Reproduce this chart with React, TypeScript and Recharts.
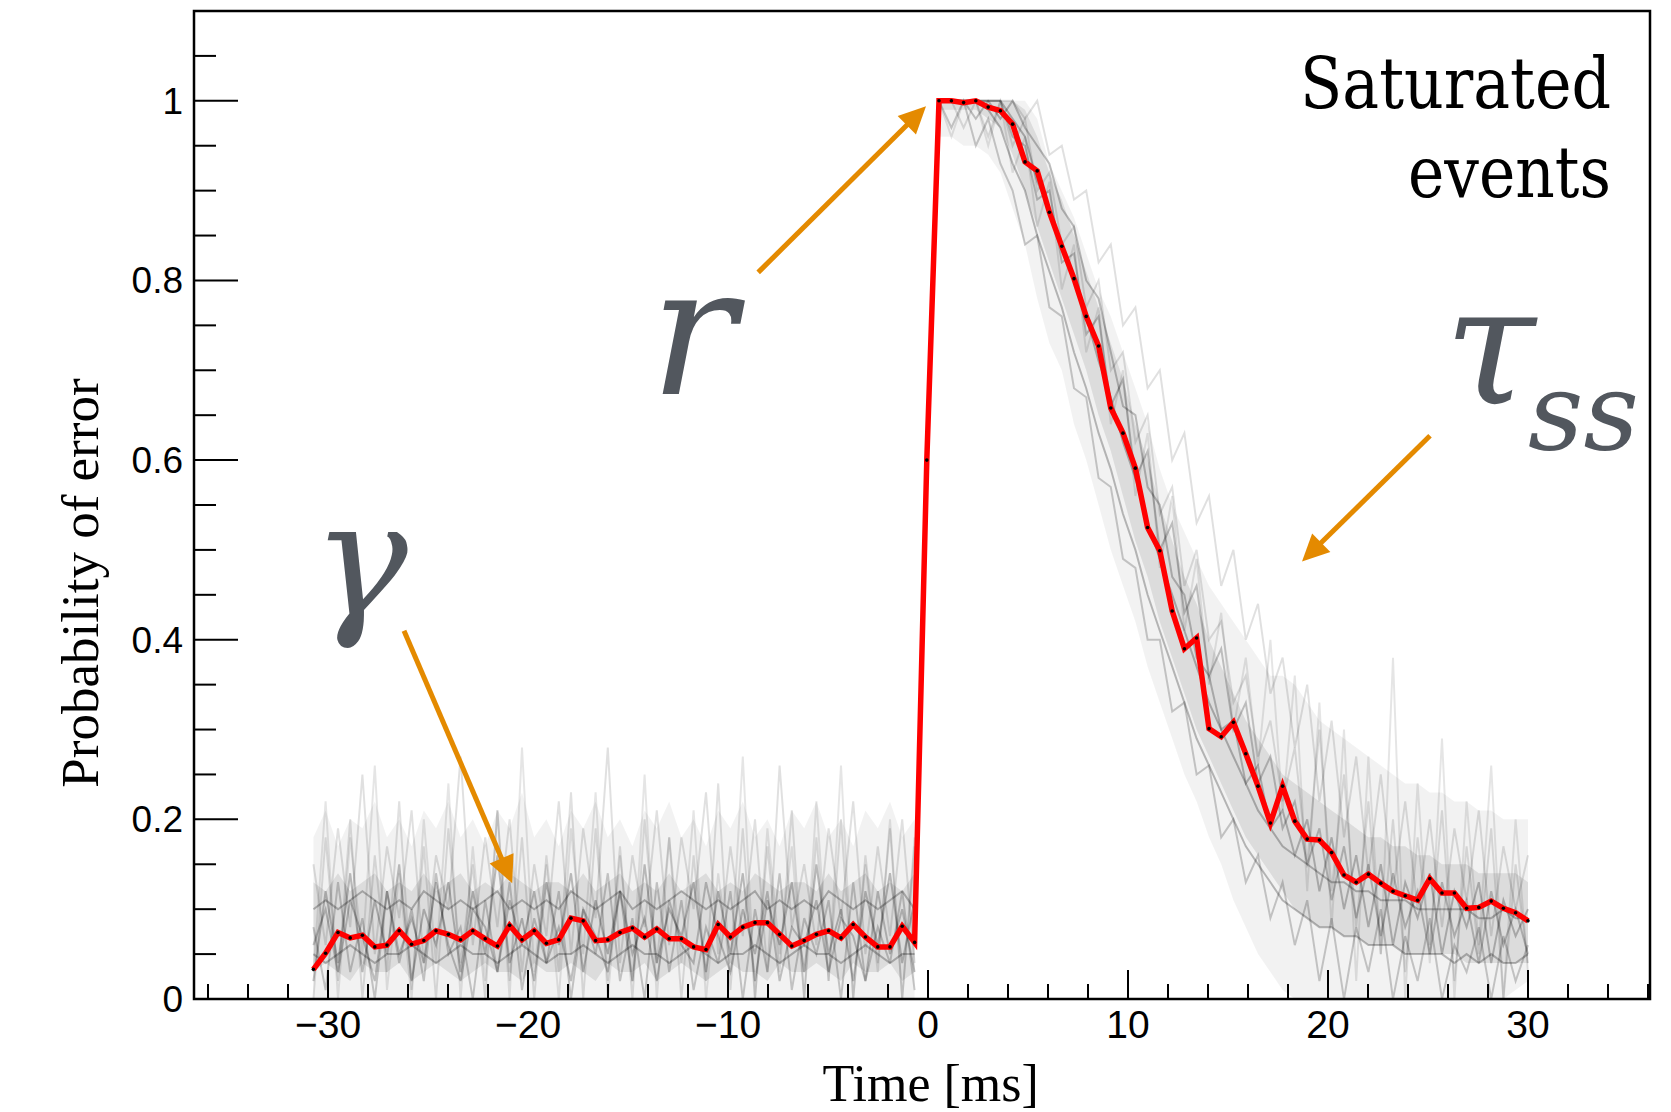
import React from "react";
import { ComposedChart, Line, Area, XAxis, YAxis, ReferenceArea, ReferenceLine, ReferenceDot } from "recharts";

// sample times [ms]
const time = [
  -30.73, -30.12, -29.5, -28.89, -28.28, -27.66, -27.05, -26.44, -25.82, -25.21,
  -24.6, -23.98, -23.37, -22.76, -22.14, -21.53, -20.92, -20.3, -19.69, -19.08,
  -18.46, -17.85, -17.24, -16.62, -16.01, -15.4, -14.78, -14.17, -13.56, -12.94,
  -12.33, -11.72, -11.1, -10.49, -9.88, -9.26, -8.65, -8.03, -7.42, -6.81,
  -6.19, -5.58, -4.97, -4.35, -3.74, -3.13, -2.51, -1.9, -1.29, -0.67,
  -0.06, 0.55, 1.17, 1.78, 2.39, 3.01, 3.62, 4.23, 4.85, 5.46,
  6.07, 6.69, 7.3, 7.91, 8.53, 9.14, 9.75, 10.37, 10.98, 11.59,
  12.21, 12.82, 13.43, 14.05, 14.66, 15.27, 15.89, 16.5, 17.12, 17.73,
  18.34, 18.96, 19.57, 20.18, 20.8, 21.41, 22.02, 22.64, 23.25, 23.86,
  24.48, 25.09, 25.7, 26.32, 26.93, 27.54, 28.16, 28.77, 29.38, 30.0,
];

// mean probability (red)
const meanProb = [
  0.033, 0.051, 0.074, 0.068, 0.071, 0.058, 0.06, 0.076, 0.061, 0.065,
  0.076, 0.072, 0.066, 0.076, 0.067, 0.059, 0.082, 0.066, 0.076, 0.062,
  0.066, 0.09, 0.087, 0.065, 0.066, 0.074, 0.079, 0.069, 0.078, 0.067,
  0.067, 0.058, 0.055, 0.083, 0.069, 0.08, 0.085, 0.085, 0.072, 0.059,
  0.065, 0.072, 0.076, 0.068, 0.083, 0.069, 0.058, 0.058, 0.081, 0.063,
  0.6, 1.0, 1.0, 0.998, 1.0, 0.993, 0.989, 0.974, 0.932, 0.922,
  0.876, 0.838, 0.802, 0.76, 0.727, 0.658, 0.63, 0.591, 0.525, 0.499,
  0.432, 0.39, 0.402, 0.301, 0.292, 0.308, 0.273, 0.237, 0.196, 0.237,
  0.198, 0.178, 0.177, 0.163, 0.138, 0.13, 0.139, 0.129, 0.12, 0.115,
  0.11, 0.134, 0.118, 0.118, 0.101, 0.102, 0.109, 0.101, 0.096, 0.087,
];

// spread of all events: faint envelope and denser core
const hazeLo = [
  0, 0, 0, 0, 0, 0, 0, 0, 0, 0,
  0, 0, 0, 0, 0, 0, 0, 0, 0, 0,
  0, 0, 0, 0, 0, 0, 0, 0, 0, 0,
  0, 0, 0, 0, 0, 0, 0, 0, 0, 0,
  0, 0, 0, 0, 0, 0, 0, 0, 0, 0,
  null, 0.96, 0.96, 0.95, 0.95, 0.94, 0.92, 0.88, 0.84, 0.78,
  0.73, 0.7, 0.64, 0.6, 0.55, 0.5, 0.46, 0.42, 0.37, 0.33,
  0.29, 0.25, 0.22, 0.18, 0.15, 0.11, 0.08, 0.05, 0.03, 0.01,
  0, 0, 0, 0, 0, 0, 0, 0, 0, 0,
  0, 0, 0, 0, 0, 0, 0, 0, 0.01, 0.02,
];
const hazeHi = [
  0.18, 0.21, 0.17, 0.2, 0.19, 0.22, 0.18, 0.2, 0.17, 0.21,
  0.19, 0.22, 0.18, 0.2, 0.17, 0.21, 0.19, 0.23, 0.18, 0.2,
  0.17, 0.21, 0.19, 0.22, 0.18, 0.2, 0.17, 0.21, 0.19, 0.22,
  0.18, 0.2, 0.17, 0.21, 0.19, 0.22, 0.18, 0.2, 0.17, 0.21,
  0.19, 0.22, 0.18, 0.2, 0.17, 0.21, 0.19, 0.22, 0.18, 0.2,
  null, 1, 1, 1, 1, 1, 1, 1, 1, 0.98,
  0.93, 0.9, 0.87, 0.83, 0.79, 0.76, 0.72, 0.68, 0.64, 0.59,
  0.55, 0.52, 0.49, 0.46, 0.44, 0.42, 0.4, 0.38, 0.36, 0.36,
  0.35, 0.33, 0.31, 0.3, 0.29, 0.28, 0.27, 0.26, 0.25, 0.24,
  0.24, 0.23, 0.23, 0.22, 0.22, 0.21, 0.21, 0.2, 0.2, 0.2,
];
const coreLo = [
  0.03, 0.04, 0.03, 0.02, 0.04, 0.03, 0.03, 0.04, 0.02, 0.03,
  0.04, 0.03, 0.02, 0.03, 0.04, 0.03, 0.03, 0.02, 0.04, 0.03,
  0.03, 0.04, 0.03, 0.02, 0.04, 0.03, 0.03, 0.04, 0.02, 0.03,
  0.04, 0.03, 0.02, 0.03, 0.04, 0.03, 0.03, 0.02, 0.04, 0.03,
  0.03, 0.04, 0.03, 0.02, 0.04, 0.03, 0.03, 0.04, 0.02, 0.03,
  null, 0.99, 0.99, 0.99, 0.99, 0.98, 0.97, 0.94, 0.9, 0.86,
  0.82, 0.78, 0.74, 0.7, 0.65, 0.61, 0.56, 0.51, 0.47, 0.42,
  0.38, 0.34, 0.3, 0.27, 0.24, 0.21, 0.18, 0.16, 0.14, 0.12,
  0.1, 0.09, 0.08, 0.08, 0.07, 0.07, 0.06, 0.06, 0.06, 0.05,
  0.05, 0.05, 0.05, 0.05, 0.04, 0.04, 0.04, 0.04, 0.04, 0.04,
];
const coreHi = [
  0.13, 0.12, 0.14, 0.12, 0.13, 0.14, 0.12, 0.13, 0.12, 0.14,
  0.12, 0.13, 0.14, 0.12, 0.13, 0.12, 0.14, 0.13, 0.12, 0.13,
  0.13, 0.12, 0.14, 0.12, 0.13, 0.14, 0.12, 0.13, 0.12, 0.14,
  0.12, 0.13, 0.14, 0.12, 0.13, 0.12, 0.14, 0.13, 0.12, 0.13,
  0.13, 0.12, 0.14, 0.12, 0.13, 0.14, 0.12, 0.13, 0.12, 0.14,
  null, 1, 1, 1, 1, 1, 1, 1, 0.99, 0.96,
  0.92, 0.89, 0.85, 0.81, 0.77, 0.73, 0.69, 0.64, 0.6, 0.55,
  0.51, 0.47, 0.44, 0.4, 0.37, 0.34, 0.31, 0.29, 0.27, 0.25,
  0.24, 0.23, 0.22, 0.21, 0.2, 0.19, 0.18, 0.18, 0.17, 0.17,
  0.16, 0.16, 0.15, 0.15, 0.15, 0.14, 0.14, 0.14, 0.14, 0.13,
];

// individual events (grey)
const evA = [
  0.02, 0.12, 0.04, 0.14, 0.03, 0.11, 0.05, 0.15, 0.02, 0.1,
  0.06, 0.13, 0.03, 0.12, 0.05, 0.16, 0.04, 0.09, 0.02, 0.13,
  0.06, 0.14, 0.03, 0.11, 0.05, 0.12, 0.02, 0.15, 0.04, 0.1,
  0.07, 0.13, 0.03, 0.12, 0.05, 0.14, 0.02, 0.11, 0.06, 0.13,
  0.03, 0.15, 0.05, 0.1, 0.02, 0.12, 0.06, 0.14, 0.04, 0.11,
  null, 1, 1, 1, 1, 1, 0.98, 1, 0.97, 0.95,
  0.93, 0.88, 0.86, 0.8, 0.78, 0.72, 0.66, 0.65, 0.57, 0.55,
  0.47, 0.45, 0.38, 0.36, 0.3, 0.31, 0.24, 0.26, 0.19, 0.21,
  0.16, 0.2, 0.12, 0.18, 0.1, 0.16, 0.08, 0.15, 0.06, 0.13,
  0.09, 0.14, 0.05, 0.12, 0.08, 0.13, 0.04, 0.11, 0.07, 0.1,
];
const evB = [
  0.0, 0.18, 0.02, 0.2, 0.0, 0.16, 0.03, 0.22, 0.01, 0.17,
  0.0, 0.19, 0.04, 0.15, 0.0, 0.21, 0.02, 0.18, 0.0, 0.16,
  0.03, 0.23, 0.0, 0.19, 0.02, 0.17, 0.0, 0.2, 0.04, 0.18,
  0.0, 0.16, 0.02, 0.24, 0.01, 0.19, 0.0, 0.17, 0.03, 0.21,
  0.0, 0.18, 0.02, 0.2, 0.0, 0.16, 0.04, 0.19, 0.0, 0.17,
  null, 1, 1, 0.97, 1, 0.96, 1, 0.95, 0.98, 0.9,
  0.92, 0.84, 0.86, 0.77, 0.8, 0.7, 0.72, 0.62, 0.65, 0.54,
  0.57, 0.46, 0.5, 0.4, 0.42, 0.33, 0.36, 0.27, 0.31, 0.22,
  0.28, 0.15, 0.3, 0.12, 0.25, 0.08, 0.22, 0.05, 0.2, 0.03,
  0.18, 0.06, 0.21, 0.02, 0.17, 0.05, 0.19, 0.0, 0.15, 0.04,
];
const evC = [
  0.1, 0.11, 0.1, 0.11, 0.12, 0.11, 0.1, 0.11, 0.1, 0.12,
  0.11, 0.1, 0.11, 0.1, 0.11, 0.12, 0.1, 0.11, 0.1, 0.11,
  0.1, 0.12, 0.11, 0.1, 0.11, 0.12, 0.1, 0.11, 0.1, 0.11,
  0.12, 0.11, 0.1, 0.11, 0.1, 0.11, 0.12, 0.1, 0.11, 0.1,
  0.11, 0.1, 0.12, 0.11, 0.1, 0.11, 0.1, 0.11, 0.12, 0.1,
  null, 1, 1, 1, 1, 1, 1, 0.98, 0.96, 0.91,
  0.88, 0.84, 0.8, 0.76, 0.71, 0.67, 0.62, 0.58, 0.53, 0.49,
  0.45, 0.41, 0.37, 0.33, 0.3, 0.27, 0.24, 0.21, 0.19, 0.17,
  0.16, 0.15, 0.14, 0.13, 0.13, 0.12, 0.12, 0.11, 0.11, 0.11,
  0.1, 0.1, 0.1, 0.1, 0.1, 0.09, 0.09, 0.1, 0.09, 0.09,
];
const evD = [
  0.05, 0.04, 0.05, 0.06, 0.05, 0.04, 0.05, 0.05, 0.06, 0.05,
  0.04, 0.05, 0.06, 0.05, 0.05, 0.04, 0.05, 0.06, 0.05, 0.04,
  0.05, 0.05, 0.06, 0.05, 0.04, 0.05, 0.06, 0.05, 0.05, 0.04,
  0.05, 0.06, 0.05, 0.04, 0.05, 0.05, 0.06, 0.05, 0.04, 0.05,
  0.06, 0.05, 0.05, 0.04, 0.05, 0.06, 0.05, 0.04, 0.05, 0.05,
  null, 1, 1, 1, 1, 0.99, 0.97, 0.93, 0.9, 0.85,
  0.81, 0.77, 0.72, 0.68, 0.63, 0.59, 0.54, 0.5, 0.45, 0.41,
  0.37, 0.33, 0.29, 0.26, 0.23, 0.2, 0.17, 0.15, 0.13, 0.11,
  0.1, 0.09, 0.08, 0.08, 0.07, 0.07, 0.06, 0.06, 0.06, 0.05,
  0.05, 0.05, 0.05, 0.04, 0.05, 0.04, 0.05, 0.04, 0.04, 0.05,
];
const evE = [
  0.08, 0.01, 0.13, 0.03, 0.09, 0.0, 0.12, 0.04, 0.1, 0.02,
  0.14, 0.05, 0.08, 0.0, 0.11, 0.03, 0.13, 0.01, 0.09, 0.04,
  0.12, 0.0, 0.1, 0.05, 0.14, 0.02, 0.09, 0.0, 0.13, 0.03,
  0.11, 0.01, 0.08, 0.04, 0.12, 0.0, 0.1, 0.03, 0.14, 0.01,
  0.09, 0.05, 0.11, 0.0, 0.13, 0.02, 0.08, 0.04, 0.12, 0.01,
  null, 1, 0.97, 1, 0.95, 0.98, 0.93, 0.9, 0.84, 0.85,
  0.77, 0.76, 0.68, 0.67, 0.58, 0.57, 0.49, 0.48, 0.4, 0.4,
  0.32, 0.33, 0.25, 0.26, 0.18, 0.2, 0.13, 0.16, 0.09, 0.13,
  0.06, 0.11, 0.02, 0.09, 0.0, 0.08, 0.03, 0.1, 0.0, 0.07,
  0.02, 0.09, 0.0, 0.06, 0.03, 0.08, 0.0, 0.07, 0.02, 0.06,
];
const evF = [
  0.15, 0.06, 0.19, 0.08, 0.25, 0.05, 0.17, 0.09, 0.21, 0.04,
  0.16, 0.1, 0.27, 0.06, 0.18, 0.08, 0.2, 0.03, 0.15, 0.07,
  0.22, 0.05, 0.19, 0.09, 0.28, 0.04, 0.16, 0.08, 0.21, 0.06,
  0.18, 0.1, 0.23, 0.05, 0.17, 0.07, 0.2, 0.03, 0.26, 0.08,
  0.15, 0.06, 0.19, 0.09, 0.22, 0.05, 0.17, 0.07, 0.2, 0.04,
  null, 1, 1, 1, 1, 1, 1, 1, 0.98, 1,
  0.94, 0.95, 0.89, 0.9, 0.82, 0.84, 0.75, 0.77, 0.68, 0.7,
  0.6, 0.63, 0.53, 0.56, 0.46, 0.5, 0.4, 0.44, 0.34, 0.38,
  0.28, 0.35, 0.22, 0.31, 0.18, 0.27, 0.14, 0.25, 0.12, 0.22,
  0.1, 0.2, 0.08, 0.19, 0.11, 0.21, 0.07, 0.17, 0.1, 0.16,
];
const evG = [
  0.06, 0.1, 0.03, 0.11, 0.07, 0.02, 0.12, 0.05, 0.09, 0.04,
  0.13, 0.06, 0.02, 0.1, 0.08, 0.03, 0.11, 0.06, 0.12, 0.04,
  0.08, 0.02, 0.1, 0.07, 0.03, 0.12, 0.05, 0.09, 0.02, 0.11,
  0.06, 0.04, 0.13, 0.07, 0.03, 0.1, 0.05, 0.12, 0.02, 0.08,
  0.06, 0.11, 0.03, 0.09, 0.07, 0.02, 0.12, 0.05, 0.1, 0.03,
  null, 1, 1, 1, 0.98, 1, 1, 0.96, 0.95, 0.89,
  0.9, 0.82, 0.83, 0.74, 0.76, 0.66, 0.69, 0.58, 0.61, 0.5,
  0.53, 0.43, 0.46, 0.36, 0.39, 0.3, 0.33, 0.24, 0.27, 0.19,
  0.22, 0.15, 0.19, 0.11, 0.17, 0.09, 0.15, 0.07, 0.14, 0.08,
  0.12, 0.05, 0.13, 0.07, 0.11, 0.04, 0.12, 0.06, 0.1, 0.05,
];
const evH = [
  0.03, 0.22, 0.0, 0.18, 0.05, 0.26, 0.01, 0.14, 0.0, 0.2,
  0.04, 0.24, 0.0, 0.17, 0.02, 0.21, 0.0, 0.28, 0.03, 0.15,
  0.0, 0.19, 0.05, 0.23, 0.0, 0.16, 0.02, 0.25, 0.0, 0.18,
  0.04, 0.21, 0.0, 0.14, 0.03, 0.27, 0.0, 0.19, 0.05, 0.17,
  0.0, 0.22, 0.02, 0.26, 0.0, 0.15, 0.03, 0.2, 0.0, 0.18,
  null, 1, 0.96, 1, 1, 0.95, 1, 0.92, 0.96, 0.86,
  0.91, 0.79, 0.84, 0.72, 0.77, 0.64, 0.7, 0.56, 0.63, 0.48,
  0.56, 0.41, 0.49, 0.35, 0.43, 0.3, 0.38, 0.26, 0.4, 0.21,
  0.36, 0.12, 0.33, 0.08, 0.3, 0.02, 0.27, 0.05, 0.38, 0.0,
  0.24, 0.04, 0.29, 0.0, 0.22, 0.06, 0.26, 0.0, 0.2, 0.03,
];

const xTicks = [-36, -34, -32, -30, -28, -26, -24, -22, -20, -18, -16, -14, -12, -10, -8, -6, -4, -2,
  0, 2, 4, 6, 8, 10, 12, 14, 16, 18, 20, 22, 24, 26, 28, 30, 32, 34, 36];
const xLabels = [-30, -20, -10, 0, 10, 20, 30];
const yTicks = [0, 0.05, 0.1, 0.15, 0.2, 0.25, 0.3, 0.35, 0.4, 0.45, 0.5, 0.55, 0.6, 0.65, 0.7,
  0.75, 0.8, 0.85, 0.9, 0.95, 1, 1.05];
const yLabels = [0, 0.2, 0.4, 0.6, 0.8, 1];

const events = [
  { key: "a", values: evA, op: 0.24 },
  { key: "b", values: evB, op: 0.12 },
  { key: "c", values: evC, op: 0.26 },
  { key: "d", values: evD, op: 0.26 },
  { key: "e", values: evE, op: 0.2 },
  { key: "f", values: evF, op: 0.12 },
  { key: "g", values: evG, op: 0.22 },
  { key: "h", values: evH, op: 0.1 },
];

const rows = time.map((t, i) => {
  const row: Record<string, any> = {
    t,
    mean: meanProb[i],
    haze: hazeLo[i] == null ? null : [hazeLo[i], hazeHi[i]],
    core: coreLo[i] == null ? null : [coreLo[i], coreHi[i]],
  };
  events.forEach((e) => (row[e.key] = e.values[i]));
  return row;
});

const ORANGE = "#e48a00";
const SLATE = "#52575e";
const SANS = "'Liberation Sans', Arial, Helvetica, sans-serif";
const SERIF = "'Liberation Serif', 'Times New Roman', serif";
const DSERIF = "'DejaVu Serif', serif";

const XTick = (props: any) => {
  const { x, y, payload } = props;
  const v = payload.value;
  const major = xLabels.includes(v);
  return (
    <g>
      <line x1={x} x2={x} y1={y} y2={y - (major ? 29 : 15)} stroke="#000" strokeWidth={2} />
      {major && (
        <text x={x} y={y + 39} textAnchor="middle" fontFamily={SANS} fontSize={39} fill="#000">
          {v < 0 ? "\u2212" + Math.abs(v) : String(v)}
        </text>
      )}
    </g>
  );
};

const YTick = (props: any) => {
  const { x, y, payload } = props;
  const v = payload.value;
  const major = yLabels.includes(v);
  return (
    <g>
      <line x1={x} x2={x + (major ? 44 : 22)} y1={y} y2={y} stroke="#000" strokeWidth={2} />
      {major && (
        <text x={x - 11} y={y + 13} textAnchor="end" fontFamily={SANS} fontSize={37} fill="#000">
          {String(v)}
        </text>
      )}
    </g>
  );
};

const Arrow = (p: any) => {
  const { x1, y1, x2, y2 } = p;
  const dx = x2 - x1;
  const dy = y2 - y1;
  const len = Math.hypot(dx, dy);
  const ux = dx / len;
  const uy = dy / len;
  const hl = 27;
  const hw = 13;
  const bx = x2 - ux * hl;
  const by = y2 - uy * hl;
  return (
    <g>
      <line x1={x1} y1={y1} x2={bx + ux * 2} y2={by + uy * 2} stroke={ORANGE} strokeWidth={5} />
      <polygon
        points={`${x2},${y2} ${bx - uy * hw},${by + ux * hw} ${bx + uy * hw},${by - ux * hw}`}
        fill={ORANGE}
      />
    </g>
  );
};

export default function App() {
  return (
    <div style={{ position: "absolute", left: 0, top: 0, width: 1671, height: 1112, background: "#fff" }}>
      <ComposedChart width={1671} height={1112} data={rows} margin={{ top: 11, right: 21, bottom: 112, left: 193 }}>
        <XAxis
          type="number"
          dataKey="t"
          domain={[-36.7, 36.1]}
          allowDataOverflow
          ticks={xTicks}
          interval={0}
          tickSize={0}
          tickMargin={0}
          tickLine={false}
          axisLine={false}
          height={1}
          tick={XTick}
          label={(p: any) => {
            const vb = p.viewBox;
            return (
              <text x={vb.x + vb.width * 0.506} y={vb.y + 102} textAnchor="middle" fontFamily={SERIF} fontSize={52} fill="#000">
                Time [ms]
              </text>
            );
          }}
        />
        <YAxis
          type="number"
          domain={[0, 1.1]}
          allowDataOverflow
          ticks={yTicks}
          interval={0}
          tickSize={0}
          tickMargin={0}
          tickLine={false}
          axisLine={false}
          width={1}
          tick={YTick}
          label={(p: any) => {
            const vb = p.viewBox;
            const cx = vb.x + vb.width - 96;
            const cy = vb.y + vb.height * 0.579;
            return (
              <text x={cx} y={cy} transform={`rotate(-90 ${cx} ${cy})`} textAnchor="middle" fontFamily={SERIF} fontSize={53} fill="#000">
                Probability of error
              </text>
            );
          }}
        />
        <Area type="linear" dataKey="haze" stroke="none" fill="#000" fillOpacity={0.05} activeDot={false} isAnimationActive={false} />
        <Area type="linear" dataKey="core" stroke="none" fill="#000" fillOpacity={0.09} activeDot={false} isAnimationActive={false} />
        {events.map((e) => (
          <Line
            key={e.key}
            type="linear"
            dataKey={e.key}
            stroke="#000"
            strokeOpacity={e.op}
            strokeWidth={2}
            dot={false}
            activeDot={false}
            isAnimationActive={false}
          />
        ))}
        <Line
          type="linear"
          dataKey="mean"
          stroke="#ff0000"
          strokeWidth={5.5}
          dot={{ r: 1.8, fill: "#000", stroke: "none" }}
          activeDot={false}
          isAnimationActive={false}
        />
        <ReferenceArea x1={-36.7} x2={36.1} y1={0} y2={1.1} fill="none" stroke="#000" strokeWidth={2.5} ifOverflow="visible" />
        <ReferenceLine segment={[{ x: -8.49, y: 0.809 }, { x: -0.1, y: 0.994 }]} shape={Arrow} ifOverflow="visible" />
        <ReferenceLine segment={[{ x: -26.2, y: 0.41 }, { x: -20.79, y: 0.129 }]} shape={Arrow} ifOverflow="visible" />
        <ReferenceLine segment={[{ x: 25.1, y: 0.627 }, { x: 18.7, y: 0.487 }]} shape={Arrow} ifOverflow="visible" />
        <ReferenceDot
          x={34.15}
          y={0.992}
          r={0}
          ifOverflow="visible"
          shape={(p: any) => (
            <g fontFamily={DSERIF} fontSize={71} fill="#000">
              <text x={p.cx} y={p.cy} textAnchor="end" textLength={311} lengthAdjust="spacingAndGlyphs">Saturated</text>
              <text x={p.cx} y={p.cy + 89} textAnchor="end" textLength={203} lengthAdjust="spacingAndGlyphs">events</text>
            </g>
          )}
        />
        <ReferenceDot
          x={-11.75}
          y={0.674}
          r={0}
          ifOverflow="visible"
          shape={(p: any) => (
            <text x={p.cx} y={p.cy} textAnchor="middle" fontFamily={DSERIF} fontStyle="italic" fontSize={180} fill={SLATE}>r</text>
          )}
        />
        <ReferenceDot
          x={-28.4}
          y={0.428}
          r={0}
          ifOverflow="visible"
          shape={(p: any) => (
            <text x={p.cx} y={p.cy} textAnchor="middle" fontFamily={DSERIF} fontStyle="italic" fontSize={160} fill={SLATE}>γ</text>
          )}
        />
        <ReferenceDot
          x={28.1}
          y={0.664}
          r={0}
          ifOverflow="visible"
          shape={(p: any) => (
            <g fill={SLATE} fontFamily={DSERIF} fontStyle="italic">
              <text x={p.cx} y={p.cy} textAnchor="middle" fontSize={165}>τ</text>
              <text x={p.cx + 38} y={p.cy + 46} textAnchor="start" fontSize={108}>ss</text>
            </g>
          )}
        />
      </ComposedChart>
    </div>
  );
}
